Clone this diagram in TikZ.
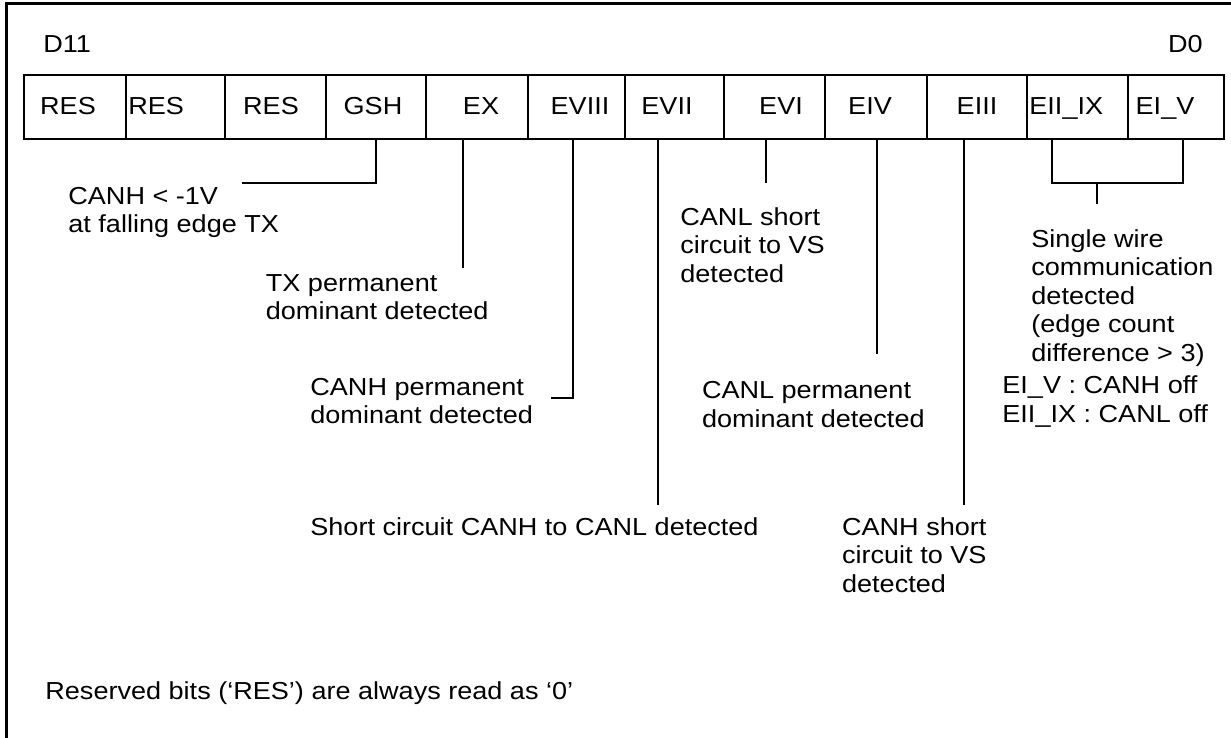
\documentclass[tikz,border=0pt]{standalone}
\usepackage{fontspec}
\setmainfont{Liberation Sans}[FakeStretch=1.1]
\newcommand\lblfont{\fontsize{12.3pt}{14.25pt}\selectfont}
\tikzset{
  frameline/.style={line width=1.5pt},
  cellbox/.style={draw, line width=1pt, rectangle, inner sep=0pt, minimum height=32.25pt},
  celltext/.style={anchor=base, inner sep=0pt, font=\lblfont},
  conn/.style={line width=1pt},
  lbl/.style={anchor=north west, inner sep=0pt, align=left, font=\lblfont},
}
\begin{document}
\begin{tikzpicture}[x=0.5pt, y=-0.5pt]
\useasboundingbox (0,0) rectangle (1231,738);
% outer frame (cut at right and bottom)
\draw[frameline] (6,738) -- (6,4) -- (1231,4);
% bit labels
\node[celltext, anchor=base west] (d11) at (43,52.7) {D11};
\node[celltext, anchor=base east] (d0) at (1203,52.7) {D0};
% register cells
\foreach \name/\l/\r in {c0/24/126, c1/126/225, c2/225/326, c3/326/426, c4/426/528, c5/528/625, c6/625/724, c7/724/825, c8/825/927, c9/927/1027, c10/1027/1128, c11/1128/1224}{
  \node[cellbox, minimum width={(\r-\l)*0.5pt}] (\name) at ({(\l+\r)/2},107.25) {};
}
\node[celltext] (t0) at (68,115) {RES};
\node[celltext, anchor=base west] (t1) at (128,115) {RES};
\node[celltext] (t2) at (271,115) {RES};
\node[celltext] (t3) at (373,115) {GSH};
\node[celltext] (t4) at (481,115) {EX};
\node[celltext] (t5) at (580,115) {EVIII};
\node[celltext] (t6) at (667,115) {EVII};
\node[celltext] (t7) at (781,115) {EVI};
\node[celltext] (t8) at (870,115) {EIV};
\node[celltext] (t9) at (977,115) {EIII};
\node[celltext, anchor=base west] (t10) at (1029,115) {EII\_IX};
\node[celltext] (t11) at (1165,115) {EI\_V};
% connector end points
\coordinate (gshend) at (242,182.7);
\coordinate (exend) at (463,268.3);
\coordinate (e8corner) at (573,397.7);
\coordinate (e8end) at (550.5,397.7);
\coordinate (e7end) at (657.8,505);
\coordinate (e6end) at (766.4,182.7);
\coordinate (e4end) at (876.7,354.3);
\coordinate (e3end) at (964.3,505);
\coordinate (brl) at (1052,182.7);
\coordinate (brr) at (1183.2,182.7);
\coordinate (brm) at (1096.5,182.7);
\coordinate (brend) at (1096.5,204);
% connectors
\draw[conn] (c3.south) |- (gshend);
\draw[conn] (c4.south -| exend) -- (exend);
\draw[conn] (c5.south -| e8corner) -- (e8corner) -- (e8end);
\draw[conn] (c6.south -| e7end) -- (e7end);
\draw[conn] (c7.south -| e6end) -- (e6end);
\draw[conn] (c8.south -| e4end) -- (e4end);
\draw[conn] (c9.south -| e3end) -- (e3end);
\draw[conn] (c10.south -| brl) -- (brl) -- (brr) -- (c11.south -| brr);
\draw[conn] (brm) -- (brend);
% descriptions
\node[lbl] (lgsh) at (68,184) {\strut CANH < -1V\\at falling edge TX};
\node[lbl] (lex) at (265.5,271) {\strut TX permanent\\dominant detected};
\node[lbl] (le8) at (310,375) {\strut CANH permanent\\dominant detected};
\node[lbl] (le7) at (310,515) {\strut Short circuit CANH to CANL detected};
\node[lbl] (le6) at (680,205) {\strut CANL short\\circuit to VS\\detected};
\node[lbl] (le4) at (701.6,378.3) {\strut CANL permanent\\dominant detected};
\node[lbl] (le3) at (841.7,515) {\strut CANH short\\circuit to VS\\detected};
\node[lbl] (lsw) at (1031,226.7) {\strut Single wire\\communication\\detected\\(edge count\\difference > 3)};
\node[lbl] (loff) at (1002,373.3) {\strut EI\_V : CANH off\\EII\_IX : CANL off};
\node[lbl] (lres) at (45,679) {\strut Reserved bits (‘RES’) are always read as ‘0’};
\end{tikzpicture}
\end{document}
